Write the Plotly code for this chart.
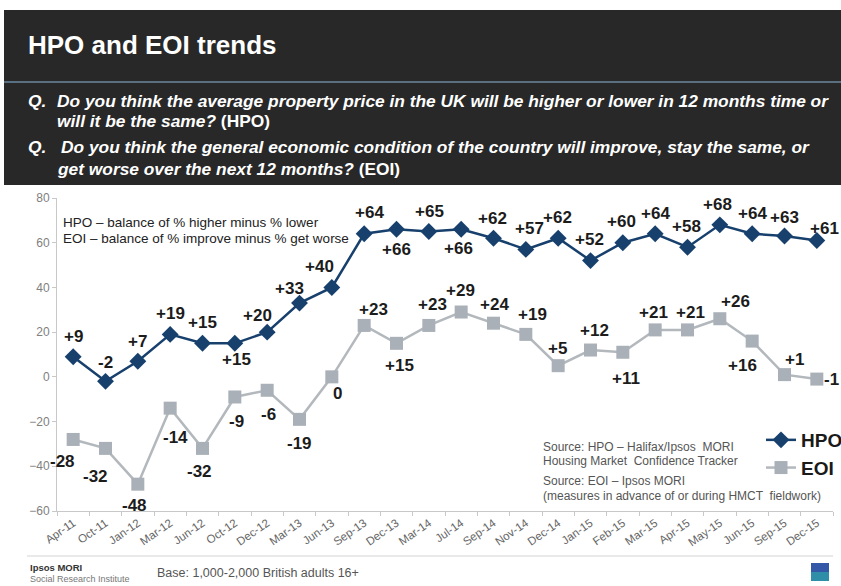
import plotly.graph_objects as go

months = ["Apr-11", "Oct-11", "Jan-12", "Mar-12", "Jun-12", "Oct-12", "Dec-12", "Mar-13",
          "Jun-13", "Sep-13", "Dec-13", "Mar-14", "Jul-14", "Sep-14", "Nov-14", "Dec-14",
          "Jan-15", "Feb-15", "Mar-15", "Apr-15", "May-15", "Jun-15", "Sep-15", "Dec-15"]
hpo = [9, -2, 7, 19, 15, 15, 20, 33, 40, 64, 66, 65, 66, 62, 57, 62, 52, 60, 64, 58, 68, 64, 63, 61]
eoi = [-28, -32, -48, -14, -32, -9, -6, -19, 0, 23, 15, 23, 29, 24, 19, 5, 12, 11, 21, 21, 26, 16, 1, -1]
y_ticks = [-60, -40, -20, 0, 20, 40, 60, 80]

# label offsets in pixels (dx right, dy down)
hpo_off = [(0, -20), (0, -19), (0, -20), (0, -21), (0, -21), (2, 16), (-10, -17), (-10, -15),
           (-12, -21), (5, -21), (0, 20), (1, -20), (-3, 19), (-1, -20), (4, -21), (-1, -21),
           (-1, -21), (-1, -21), (0, -20), (-1, -21), (-2, -20), (0, -20), (0, -19), (8, -12)]
eoi_off = [(-11, 22), (-10, 28), (-3, 21), (5, 29), (-3, 23), (2, 25), (1, 24), (0, 24),
           (6, 17), (9, -16), (3, 22), (4, -21), (-1, -22), (1, -19), (7, -20), (-1, -17),
           (4, -20), (3, 26), (-2, -17), (3, -17), (16, -17), (-10, 24), (10, -15), (15, 0)]

FONT = "Liberation Sans, Arial, sans-serif"
NAVY = "#17406d"
GREY = "#a9b0b7"

W, H = 841, 586
L, R, T, B = 57, 8, 198, 75
PW = W - L - R
PH = H - T - B


def X(px):
    return (px - L) / PW


def Y(py):
    return (H - B - py) / PH


def fmt(v):
    return f"+{v}" if v > 0 else str(v)


fig = go.Figure()
fig.add_trace(go.Scatter(x=months, y=hpo, mode="lines+markers", name="<b>HPO</b>",
                         line=dict(color=NAVY, width=2.5),
                         marker=dict(symbol="diamond", size=13, color=NAVY)))
fig.add_trace(go.Scatter(x=months, y=eoi, mode="lines+markers", name="<b>EOI</b>",
                         line=dict(color="#b3b8bd", width=2.5),
                         marker=dict(symbol="square", size=13, color=GREY)))

ann = []
for series, offs in ((hpo, hpo_off), (eoi, eoi_off)):
    for m, v, (dx, dy) in zip(months, series, offs):
        ann.append(dict(x=m, y=v, xref="x", yref="y", text=f"<b>{fmt(v)}</b>",
                        showarrow=False, xshift=dx, yshift=-dy,
                        font=dict(family=FONT, size=17, color="#1c1c1c")))


def txt(px, py, text, size, color, anchor="left"):
    ann.append(dict(x=X(px), y=Y(py), xref="paper", yref="paper", text=text,
                    showarrow=False, xanchor=anchor, yanchor="middle",
                    font=dict(family=FONT, size=size, color=color)))


QS = 17.35
# header
txt(26, 45, "<b>HPO and EOI trends</b>", 26, "white")
txt(26, 101, "<b><i>Q.</i></b>", QS, "white")
txt(55, 101, "<b><i>Do you think the average property price in the UK will be higher or lower in 12 months time or</i></b>", QS, "white")
txt(55, 121, "<b><i>will it be the same?</i> (HPO)</b>", QS, "white")
txt(26, 147, "<b><i>Q.</i></b>", QS, "white")
txt(59, 147, "<b><i>Do you think the general economic condition of the country will improve, stay the same, or</i></b>", QS, "white")
txt(55, 169, "<b><i>get worse over the next 12 months?</i> (EOI)</b>", QS, "white")

# in-chart notes
txt(61, 222, "HPO – balance of % higher minus % lower", 13.5, "#222222")
txt(61, 238, "EOI – balance of % improve minus % get worse", 13.5, "#222222")
txt(541, 447, "Source: HPO – Halifax/Ipsos  MORI", 12, "#555555")
txt(541, 461, "Housing Market  Confidence Tracker", 12, "#555555")
txt(541, 481, "Source: EOI – Ipsos MORI", 12, "#555555")
txt(541, 496, "(measures in advance of or during HMCT  fieldwork)", 12, "#555555")

# footer
txt(28, 567, "<b>Ipsos MORI</b>", 9.5, "#333333")
txt(28, 579, "Social Research Institute", 9, "#777777")
txt(155, 573, "Base: 1,000-2,000 British adults 16+", 12.5, "#555555")

shapes = [
    dict(type="rect", xref="paper", yref="paper", x0=X(4), x1=X(842), y0=Y(185), y1=Y(10),
         fillcolor="#282828", line=dict(width=0), layer="below"),
    dict(type="line", xref="paper", yref="paper", x0=X(4), x1=X(842), y0=Y(82), y1=Y(82),
         line=dict(color="#5a6f80", width=2)),
    dict(type="line", xref="paper", yref="paper", x0=X(27), x1=X(833), y0=Y(556), y1=Y(556),
         line=dict(color="#d4d4d4", width=1)),
    dict(type="rect", xref="paper", yref="paper", x0=X(811), x1=X(829), y0=Y(581), y1=Y(563),
         fillcolor="#3358a8", line=dict(width=0)),
    dict(type="rect", xref="paper", yref="paper", x0=X(811), x1=X(829), y0=Y(581), y1=Y(572),
         fillcolor="#2f8fa8", line=dict(width=0)),
]

fig.update_layout(
    width=W, height=H, autosize=False,
    margin=dict(l=L, r=R, t=T, b=B, pad=0, autoexpand=False),
    paper_bgcolor="white", plot_bgcolor="white",
    font=dict(family=FONT),
    annotations=ann, shapes=shapes,
    showlegend=True,
    legend=dict(x=X(761), y=Y(421), xanchor="left", yanchor="top",
                font=dict(family=FONT, size=19, color="#1a1a1a"),
                bgcolor="rgba(0,0,0,0)", itemwidth=30, tracegroupgap=0),
    xaxis=dict(type="category", range=[-0.5, len(months) - 0.5], showgrid=False,
               showline=True, linecolor="#c8c8c8", linewidth=1, ticks="outside",
               tickson="boundaries", ticklen=4, tickcolor="#c8c8c8", tickangle=-35,
               tickfont=dict(family=FONT, size=11.5, color="#666666"), zeroline=False,
               automargin=False),
    yaxis=dict(range=[-60, 80], tickvals=y_ticks, showgrid=False, zeroline=False,
               showline=True, linecolor="#c8c8c8", linewidth=1, ticks="outside",
               ticklen=4, tickcolor="#c8c8c8", automargin=False,
               tickfont=dict(family=FONT, size=12, color="#808080")),
)

fig.write_html("out.html")
